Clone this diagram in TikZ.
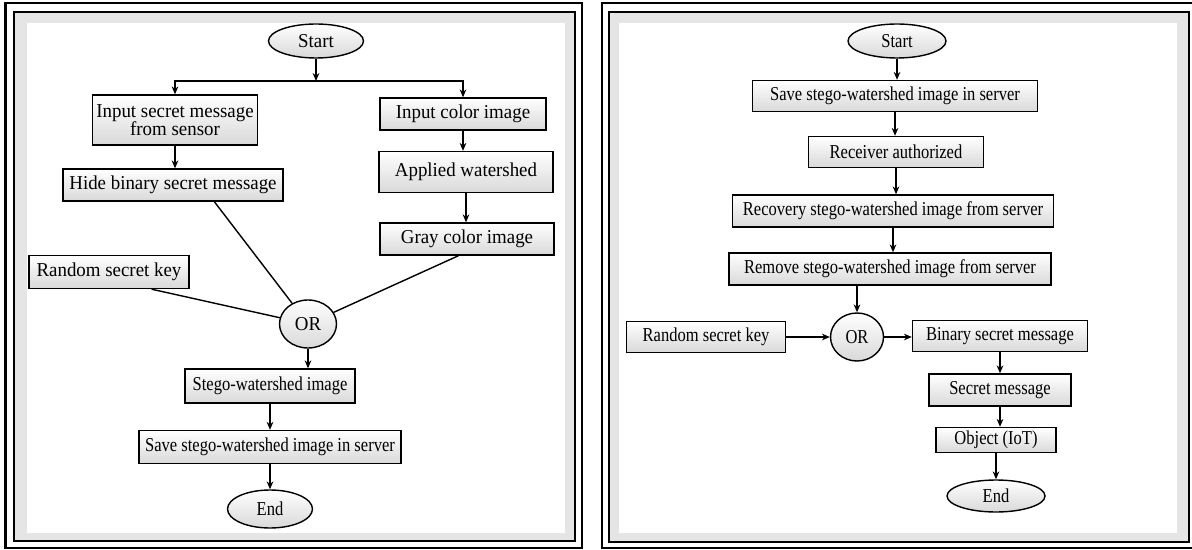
\documentclass[tikz,border=0pt]{standalone}
\usepackage{fontspec}
\setmainfont{Liberation Serif}[FakeStretch=0.96]
\newfontfamily\narrowfont{Liberation Serif}[FakeStretch=0.84]
\usetikzlibrary{shapes.geometric,arrows.meta}

\begin{document}
\begin{tikzpicture}[x=0.02cm, y=-0.02cm, font=\fontsize{11.2}{10.5}\selectfont, >={Stealth[length=4.5pt,width=3.8pt]}, line width=0.8pt]

\tikzset{
  box/.style={draw, rectangle, top color=white, bottom color=gray!30, align=center, inner sep=1pt},
  term/.style={draw, ellipse, top color=white, bottom color=gray!30, inner sep=1pt},
  dims/.style 2 args={minimum width=#1*0.02cm, minimum height=#2*0.02cm},
  narrow/.style={font=\narrowfont\fontsize{11.2}{10.5}\selectfont},
  arr/.style={->, line width=0.9pt}
}

\useasboundingbox (0,0) rectangle (1192,550);

% Frames
\fill[gray!20] (14,12) rectangle (575,541);
\draw (14,12) rectangle (575,541);
\fill[white] (27,23) rectangle (565,533);
\draw[line width=1.3pt] (5.5,3) rectangle (582,548);

\fill[gray!20] (609,12) rectangle (1189,542);
\draw (609,12) rectangle (1189,542);
\fill[white] (619,23) rectangle (1177,533);
\draw[line width=1.3pt] (602,3) rectangle (1196,548);

% Hiding side
\node[term, dims={95}{34}] (start1) at (316,41) {Start};
\coordinate (split) at (316,81);
\node[box, dims={165}{50}] (input) at (175,120) {Input secret message\\from sensor};
\node[box, dims={220}{32}] (hide) at (173,185) {Hide binary secret message};
\node[box, dims={166}{32}] (color) at (463,114) {Input color image};
\node[box, dims={174}{41}] (water) at (466,172) {Applied watershed};
\node[box, dims={174}{32}] (gray) at (467,239) {Gray color image};
\node[box, dims={160}{33}] (key1) at (109,272) {Random secret key};
\node[term, dims={57}{48}] (or1) at (308,324) {OR};
\node[box, narrow, dims={170}{34}] (stego) at (270,386) {Stego-watershed image};
\node[box, narrow, dims={262}{33}] (save1) at (270,447) {Save stego-watershed image in server};
\node[term, narrow, dims={85}{38}] (end1) at (270,509) {End};

\draw[arr] (start1) -- (split);
\draw[arr] (split) -| (input.north);
\draw[arr] (split) -| (color.north);
\draw[arr] (input.south) -- (input.south |- hide.north);
\draw[arr] (color.south) -- (color.south |- water.north);
\draw[arr] (water.south) -- (water.south |- gray.north);
\draw (hide.-22) -- (or1);
\draw (key1.-22) -- (or1);
\draw (gray.-117) -- (or1);
\draw[arr] (or1.south) -- (or1.south |- stego.north);
\draw[arr] (stego) -- (save1);
\draw[arr] (save1) -- (end1);

% Extraction side
\node[term, narrow, dims={98}{34}] (start2) at (897,41) {Start};
\node[box, narrow, dims={285}{31}] (save2) at (895,96) {Save stego-watershed image in server};
\node[box, narrow, dims={175}{31}] (recv) at (896,152) {Receiver authorized};
\node[box, narrow, dims={321}{32}] (recov) at (893,211) {Recovery stego-watershed image from server};
\node[box, narrow, dims={322}{32}] (remove) at (890,269) {Remove stego-watershed image from server};
\node[term, narrow, dims={53}{48}] (or2) at (857,337) {OR};
\node[box, narrow, dims={159}{31}] (key2) at (706,337) {Random secret key};
\node[box, narrow, dims={175}{31}] (binary) at (1000,336) {Binary secret message};
\node[box, narrow, dims={142}{32}] (secret) at (1000,390) {Secret message};
\node[box, narrow, dims={120}{25}] (object) at (996,440) {Object (IoT)};
\node[term, narrow, dims={98}{32}] (end2) at (996,496) {End};

\draw[arr] (start2.south) -- (start2.south |- save2.north);
\draw[arr] (save2.south) -- (save2.south |- recv.north);
\draw[arr] (recv.south) -- (recv.south |- recov.north);
\draw[arr] (recov.south) -- (recov.south |- remove.north);
\draw[arr] (or2.north |- remove.south) -- (or2.north);
\draw[arr] (key2) -- (or2);
\draw[arr] (or2.east) -- (or2.east -| binary.west);
\draw[arr] (binary.south) -- (binary.south |- secret.north);
\draw[arr] (secret.south) -- (secret.south |- object.north);
\draw[arr] (object.south) -- (object.south |- end2.north);

\end{tikzpicture}
\end{document}
